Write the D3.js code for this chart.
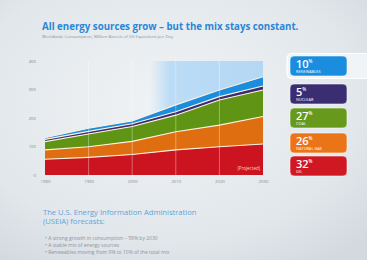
<!DOCTYPE html>
<html lang="en">
<head>
<meta charset="utf-8">
<script src="https://d3js.org/d3.v7.min.js"></script>
<style>
  html, body { margin: 0; padding: 0; overflow: hidden; }
  body { width: 367px; height: 260px; }
  text { font-family: "Open Sans", "DejaVu Sans", sans-serif; }
</style>
</head>
<body>
<script>
// values (million barrels of oil equivalent per day)
var years      = [1980, 1990, 2000, 2010, 2020, 2030];
var oil        = [55, 62, 72, 88, 99, 109];
var gas        = [33, 37, 46, 64, 76, 96];
var coal       = [29, 45, 52, 58, 88, 93];
var nuclear    = [8, 9, 10, 12, 12, 14];
var renewables = [6, 11, 10, 24, 23, 33];

var yTicks = [0, 100, 200, 300, 400];

var legendNames  = ["RENEWABLES", "NUCLEAR", "COAL", "NATURAL GAS", "OIL"];
var legendShares = [10, 5, 27, 26, 32];

var keys = ["oil", "gas", "coal", "nuclear", "renewables"];
var colors = {
    oil: "#cc1320",
    gas: "#df6e10",
    coal: "#5f9414",
    nuclear: "#3b2d72",
    renewables: "#1b8ddf"
};
var legendColors = ["#1b8ddf", "#3b2d72", "#679a1c", "#ea7418", "#d01822"];

var width = 367, height = 260;

var rows = years.map(function (y, i) {
    return { year: y, oil: oil[i], gas: gas[i], coal: coal[i],
             nuclear: nuclear[i], renewables: renewables[i] };
});

var svg = d3.select("body").append("svg")
    .attr("width", width)
    .attr("height", height);

var defs = svg.append("defs");

var bg = defs.append("radialGradient").attr("id", "bg")
    .attr("cx", "45%").attr("cy", "40%").attr("r", "75%");
bg.append("stop").attr("offset", "0%").attr("stop-color", "#f0f3f5");
bg.append("stop").attr("offset", "70%").attr("stop-color", "#e2e7eb");
bg.append("stop").attr("offset", "100%").attr("stop-color", "#d3d9df");

var proj = defs.append("linearGradient").attr("id", "proj")
    .attr("x1", "0%").attr("x2", "100%");
proj.append("stop").attr("offset", "0%").attr("stop-color", "#bcdcf6").attr("stop-opacity", 0);
proj.append("stop").attr("offset", "18%").attr("stop-color", "#bcdcf6").attr("stop-opacity", 1);
proj.append("stop").attr("offset", "100%").attr("stop-color", "#b4d7f4").attr("stop-opacity", 1);

svg.append("rect")
    .attr("width", width)
    .attr("height", height)
    .attr("fill", "url(#bg)");

// title
svg.append("text")
    .attr("x", 42).attr("y", 30)
    .attr("fill", "#2b86d6")
    .attr("font-size", 9.7)
    .attr("font-weight", 700)
    .text("All energy sources grow \u2013 but the mix stays constant.");

svg.append("text")
    .attr("x", 42).attr("y", 37.5)
    .attr("fill", "#8a9299")
    .attr("font-size", 4.3)
    .text("Worldwide Consumption, Million Barrels of Oil Equivalent per Day");

// scales
var x = d3.scaleLinear()
    .domain([1980, 2030])
    .range([45, 263]);

var y = d3.scaleLinear()
    .domain([0, 400])
    .range([175, 61]);

// projected band
svg.append("rect")
    .attr("x", x(2004))
    .attr("y", y(400))
    .attr("width", x(2030) - x(2004))
    .attr("height", y(0) - y(400))
    .attr("fill", "url(#proj)");

var stack = d3.stack().keys(keys);
var series = stack(rows);

var area = d3.area()
    .x(function (d) { return x(d.data.year); })
    .y0(function (d) { return y(d[0]); })
    .y1(function (d) { return y(d[1]); });

var topLine = d3.line()
    .x(function (d) { return x(d.data.year); })
    .y(function (d) { return y(d[1]); });

svg.append("g").selectAll("path")
    .data(series)
    .enter().append("path")
    .attr("d", area)
    .attr("fill", function (d) { return colors[d.key]; });

// vertical grid lines
svg.append("g").selectAll("line")
    .data(years.slice(1, -1))
    .enter().append("line")
    .attr("x1", function (d) { return x(d); })
    .attr("x2", function (d) { return x(d); })
    .attr("y1", y(400))
    .attr("y2", y(0))
    .attr("stroke", "#ffffff")
    .attr("stroke-opacity", 0.45)
    .attr("stroke-width", 0.8);

// light separators between the layers
svg.append("g").selectAll("path")
    .data(series)
    .enter().append("path")
    .attr("d", topLine)
    .attr("fill", "none")
    .attr("stroke", "#fbf1df")
    .attr("stroke-width", 1.1);

svg.append("text")
    .attr("x", x(2030) - 3).attr("y", y(0) - 5)
    .attr("text-anchor", "end")
    .attr("fill", "#f6d6d6")
    .attr("font-size", 4.5)
    .text("(Projected)");

// axes
var yAxis = d3.axisLeft(y).tickValues(yTicks).tickSize(0).tickPadding(0);
var gy = svg.append("g")
    .attr("transform", "translate(36,0)")
    .call(yAxis);
gy.select(".domain").remove();
gy.selectAll("text")
    .attr("fill", "#7f878f")
    .attr("font-size", 4.3)
    .attr("font-family", "'Open Sans', sans-serif");

var xAxis = d3.axisBottom(x).tickValues(years).tickSize(0).tickPadding(5)
    .tickFormat(d3.format("d"));
var gx = svg.append("g")
    .attr("transform", "translate(0," + y(0) + ")")
    .call(xAxis);
gx.select(".domain").remove();
gx.selectAll("text")
    .attr("fill", "#7f878f")
    .attr("font-size", 4.3)
    .attr("font-family", "'Open Sans', sans-serif");

// legend
svg.append("rect")
    .attr("x", 287).attr("y", 53.5)
    .attr("width", 90).attr("height", 25)
    .attr("rx", 5)
    .attr("fill", "#f1f4f7")
    .attr("stroke", "#ffffff")
    .attr("stroke-width", 1.2);

var boxY = [56, 84, 108, 133, 156];
var lg = svg.append("g").selectAll("g")
    .data(legendNames)
    .enter().append("g")
    .attr("transform", function (d, i) { return "translate(290," + boxY[i] + ")"; });

lg.append("rect")
    .attr("width", 57)
    .attr("height", 20)
    .attr("rx", 4)
    .attr("fill", function (d, i) { return legendColors[i]; })
    .attr("stroke", "#ffffff")
    .attr("stroke-opacity", 0.7)
    .attr("stroke-width", 0.8);

var pct = lg.append("text")
    .attr("x", 6).attr("y", 11.5)
    .attr("fill", "#ffffff")
    .attr("font-size", 11)
    .attr("font-weight", 600);
pct.append("tspan").text(function (d, i) { return legendShares[i]; });
pct.append("tspan")
    .attr("font-size", 4.5)
    .attr("dy", -5)
    .text("%");

lg.append("text")
    .attr("x", 6).attr("y", 17)
    .attr("fill", "#ffffff")
    .attr("fill-opacity", 0.85)
    .attr("font-size", 3.8)
    .attr("font-weight", 600)
    .text(function (d) { return d; });

// notes below the chart
svg.append("text")
    .attr("x", 43).attr("y", 215)
    .attr("fill", "#5fa3dc")
    .attr("font-size", 7.6)
    .text("The U.S. Energy Information Administration");
svg.append("text")
    .attr("x", 43).attr("y", 224)
    .attr("fill", "#5fa3dc")
    .attr("font-size", 7.6)
    .text("(USEIA) forecasts:");

var notes = [
    "A strong growth in consumption \u2013 58% by 2030",
    "A stable mix of energy sources",
    "Renewables moving from 9% to 10% of the total mix"
];
svg.append("g").selectAll("text")
    .data(notes)
    .enter().append("text")
    .attr("x", 45)
    .attr("y", function (d, i) { return 239.5 + i * 7.3; })
    .attr("fill", "#8c949b")
    .attr("font-size", 5)
    .text(function (d) { return "\u2022  " + d; });
</script>
</body>
</html>
